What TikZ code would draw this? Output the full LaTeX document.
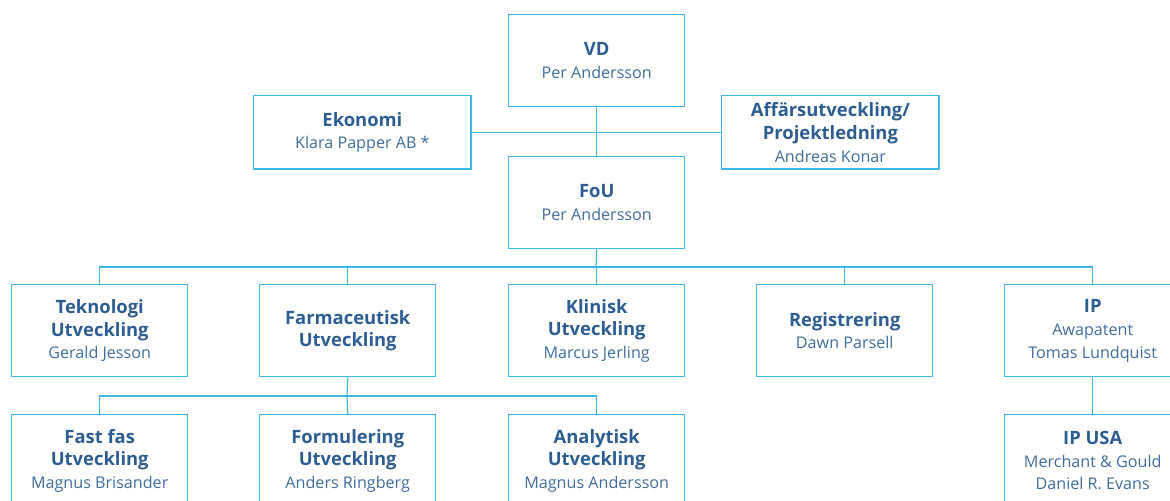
\documentclass[tikz,border=0pt]{standalone}
\usepackage{fontspec}
\setmainfont{Open Sans}
\definecolor{boxc}{HTML}{3BB6E6}
\definecolor{ttl}{HTML}{2D5E93}
\definecolor{nm}{HTML}{3F6E9F}
\tikzset{
  orgbox/.style={draw=boxc, line width=1.1pt, fill=white, minimum width=132pt, minimum height=69pt, inner sep=0pt, align=center, anchor=north west, text=nm, font=\fontsize{12.1}{17}\selectfont},
  conn/.style={draw=boxc, line width=0.9pt}
}
\newcommand{\ttl}[1]{{\color{ttl}\fontsize{13.8}{17}\selectfont\bfseries #1}}
\begin{document}
\begin{tikzpicture}[x=0.75pt,y=-0.75pt]
\useasboundingbox (0,0) rectangle (1170,500);
\clip (0,0) rectangle (1170,500);
% top
\node[orgbox] (vd) at (508,14) {\ttl{VD}\\Per Andersson};
\node[orgbox, minimum width=163pt, minimum height=55pt] (eko) at (253,95) {\ttl{Ekonomi}\\Klara Papper AB *};
\node[orgbox, minimum width=163pt, minimum height=55pt] (aff) at (721,95) {\ttl{Affärsutveckling/}\\\ttl{Projektledning}\\Andreas Konar};
\node[orgbox] (fou) at (508,156) {\ttl{FoU}\\Per Andersson};
% row 2
\node[orgbox] (tek) at (11,284) {\ttl{Teknologi}\\\ttl{Utveckling}\\Gerald Jesson};
\node[orgbox] (far) at (259,284) {\ttl{Farmaceutisk}\\\ttl{Utveckling}};
\node[orgbox] (kli) at (508,284) {\ttl{Klinisk}\\\ttl{Utveckling}\\Marcus Jerling};
\node[orgbox] (reg) at (756,284) {\ttl{Registrering}\\Dawn Parsell};
\node[orgbox] (ip) at (1004,284) {\ttl{IP}\\Awapatent\\Tomas Lundquist};
% row 3
\node[orgbox] (fast) at (11,414) {\ttl{Fast fas}\\\ttl{Utveckling}\\Magnus Brisander};
\node[orgbox] (form) at (259,414) {\ttl{Formulering}\\\ttl{Utveckling}\\Anders Ringberg};
\node[orgbox] (ana) at (508,414) {\ttl{Analytisk}\\\ttl{Utveckling}\\Magnus Andersson};
\node[orgbox] (ipusa) at (1004,414) {\ttl{IP USA}\\Merchant \& Gould\\Daniel R. Evans};
% connectors
\draw[conn] (vd.south) -- (fou.north);
\draw[conn] (eko.east) -- (aff.west);
\coordinate (b2) at (596,267);
\draw[conn] (fou.south) -- (b2);
\draw[conn] (tek.north) |- (b2) -| (ip.north);
\draw[conn] (far.north) -- (far.north |- b2);
\draw[conn] (kli.north) -- (kli.north |- b2);
\draw[conn] (reg.north) -- (reg.north |- b2);
\coordinate (b3) at (347,396);
\draw[conn] (far.south) -- (b3);
\draw[conn] (fast.north) |- (b3) -| (ana.north);
\draw[conn] (form.north) -- (b3);
\draw[conn] (ip.south) -- (ipusa.north);
\end{tikzpicture}
\end{document}
